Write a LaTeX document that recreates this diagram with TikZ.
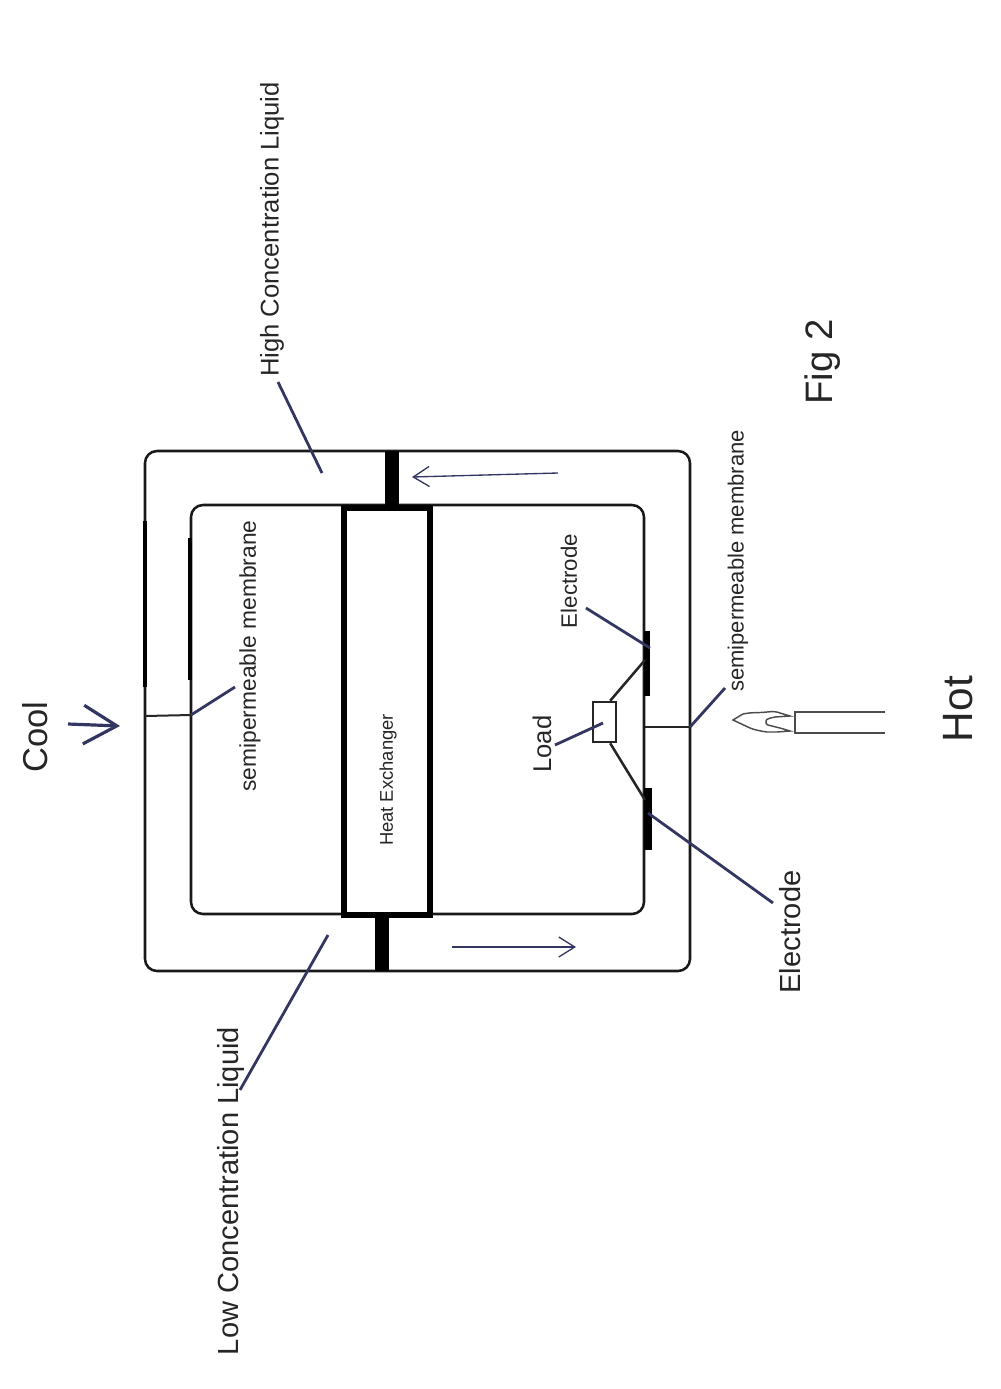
\documentclass[tikz,border=0pt]{standalone}
\usepackage{fontspec}
\setmainfont{Liberation Sans}
\usetikzlibrary{arrows.meta}
\definecolor{leadercolor}{RGB}{52,54,98}
\tikzset{
  vlabel/.style={rotate=90,inner sep=0.75pt,text=black!85},
  leader/.style={color=leadercolor,line width=2.1pt},
  wall/.style={line width=1.9pt,rounded corners=9pt,color=black!90},
  thinline/.style={line width=1.5pt,color=black!85},
  thickpart/.style={fill=black,draw=none,inner sep=0pt},
  flowarrow/.style={color=leadercolor,line width=1pt,-{Straight Barb[length=12pt,width=15pt,line width=1pt]}},
}
\begin{document}
\begin{tikzpicture}[x=0.75pt,y=0.75pt,yscale=-1,xscale=1]
\useasboundingbox (0,0) rectangle (1000,1389);

%Outer and inner loops
\draw [wall]  (145,451) rectangle (690,971) ;
\draw [wall]  (191,505) rectangle (644,914) ;

%Membrane parts
\draw [line width=2.8pt]  (145,521) -- (145,687) ;
\draw [line width=3pt]  (190,538) -- (190,680) ;

%Plugs
\draw (391.5,478) node (topplug) [thickpart,minimum width=10.5pt,minimum height=40.5pt] {};
\draw (381.5,943) node (bottomplug) [thickpart,minimum width=10.5pt,minimum height=42pt] {};

%Heat exchanger
\draw (387,711.5) node (exchanger) [draw,line width=4.5pt,minimum width=64.5pt,minimum height=305pt,inner sep=0pt,fill=white] {};

%Electrodes
\draw (647,663.5) node (electrodeone) [thickpart,minimum width=4.5pt,minimum height=48.75pt] {};
\draw (648,819) node (electrodetwo) [thickpart,minimum width=6pt,minimum height=46.5pt] {};

%Load
\draw (604.5,722) node (load) [draw,line width=1.9pt,color=black!85,fill=white,minimum width=17pt,minimum height=30pt,inner sep=0pt] {};

%Free ends
\coordinate (membraneleft) at (145,716);
\coordinate (membraneinner) at (191,715);
\coordinate (membraneright) at (690,727);
\coordinate (innerright) at (645,727);
\coordinate (wireendone) at (645,660);
\coordinate (wireendtwo) at (645,800);
\coordinate (highend) at (278,382);
\coordinate (highpoint) at (322,473);
\coordinate (lowend) at (240,1090);
\coordinate (lowpoint) at (328,935);
\coordinate (semileftend) at (235,687);
\coordinate (semirightend) at (725,688);
\coordinate (loadend) at (555,745);
\coordinate (loadpoint) at (603,723);
\coordinate (elecoend) at (586,608);
\coordinate (elecopoint) at (650,648);
\coordinate (electend) at (773,903);
\coordinate (electpoint) at (648,813);
\coordinate (toparrowstart) at (558,473);
\coordinate (toparrowend) at (412,477);
\coordinate (botarrowstart) at (452,947);
\coordinate (botarrowend) at (576,947);
\coordinate (coolstart) at (68,724);
\coordinate (coolend) at (120,726);

%Straight Lines
\draw [thinline]  (membraneleft) -- (membraneinner) ;
\draw [thinline]  (innerright) -- (membraneright) ;
\draw [thinline,line width=1.9pt]  (load.75) -- (wireendone) ;
\draw [thinline,line width=1.9pt]  (load.-75) -- (wireendtwo) ;

%Leaders
\draw [leader]  (highend) -- (highpoint) ;
\draw [leader]  (lowend) -- (lowpoint) ;
\draw [leader]  (membraneinner) -- (semileftend) ;
\draw [leader]  (membraneright) -- (semirightend) ;
\draw [leader]  (loadend) -- (loadpoint) ;
\draw [leader]  (elecoend) -- (elecopoint) ;
\draw [leader]  (electend) -- (electpoint) ;

%Flow arrows
\draw [flowarrow]  (toparrowstart) -- (toparrowend) ;
\draw [flowarrow]  (botarrowstart) -- (botarrowend) ;
\draw [color=leadercolor,line width=2.4pt,-{Straight Barb[length=25pt,width=29pt,line width=2.4pt]}]  (coolstart) -- (coolend) ;

%Burner
\draw [line width=1.2pt,color=black!70]  (885,712) -- (795,712) -- (795,733) -- (885,733) ;
%Flame
\draw [line width=1.1pt,color=black!70]  (733,720) .. controls (738,717) and (741,715) .. (743,714) .. controls (752,712) and (760,713) .. (767,712) .. controls (773,711) and (778,712) .. (780,713) -- (790,716) -- (775,717) .. controls (770,718) and (766,719) .. (766,721) .. controls (765,723) and (767,725) .. (768,725) -- (780,728) -- (790,731) -- (777,732) -- (767,732) .. controls (760,731) and (755,730) .. (750,728) -- cycle ;

% Text Node
\draw (272,229.5) node (highlabel) [vlabel,font=\fontsize{19.2pt}{23pt}\selectfont] {High Concentration Liquid};
% Text Node
\draw (231,1191) node (lowlabel) [vlabel,font=\fontsize{21.8pt}{26pt}\selectfont] {Low Concentration Liquid};
% Text Node
\draw (35,737) node (coollabel) [vlabel,font=\fontsize{25.9pt}{31pt}\selectfont] {Cool};
% Text Node
\draw (958,709) node (hotlabel) [vlabel,font=\fontsize{31.8pt}{38pt}\selectfont] {Hot};
% Text Node
\draw (823,362) node (figlabel) [vlabel,font=\fontsize{28.7pt}{34pt}\selectfont] {Fig 2};
% Text Node
\draw (250,656) node (semileftlabel) [vlabel,font=\fontsize{17.1pt}{20pt}\selectfont] {semipermeable membrane};
% Text Node
\draw (738,561) node (semirightlabel) [vlabel,font=\fontsize{16.5pt}{20pt}\selectfont] {semipermeable membrane};
% Text Node
\draw (388,780) node (exchangerlabel) [vlabel,font=\fontsize{13.8pt}{17pt}\selectfont] {Heat Exchanger};
% Text Node
\draw (569,581) node (elecolabel) [vlabel,font=\fontsize{16.7pt}{20pt}\selectfont] {Electrode};
% Text Node
\draw (790,932) node (electlabel) [vlabel,font=\fontsize{21.8pt}{26pt}\selectfont] {Electrode};
% Text Node
\draw (542,744) node (loadlabel) [vlabel,font=\fontsize{19.2pt}{23pt}\selectfont] {Load};

\end{tikzpicture}
\end{document}
